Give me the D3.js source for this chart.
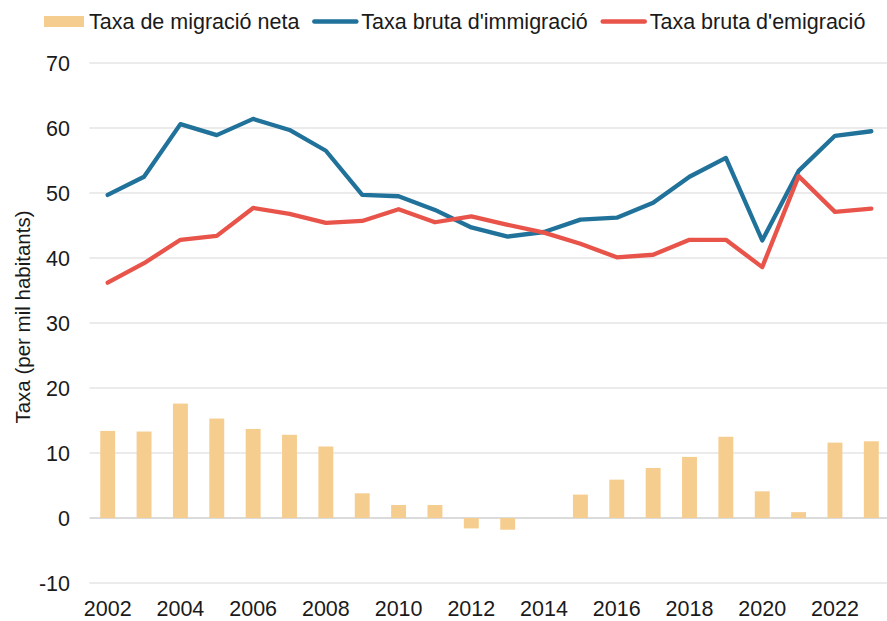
<!DOCTYPE html>
<html><head><meta charset="utf-8">
<script src="https://cdn.jsdelivr.net/npm/d3@7/dist/d3.min.js"></script>
<style>
body{margin:0;background:#fff;}
text{font-family:"Liberation Sans",Arial,sans-serif;fill:#1a1a1a;}
</style></head>
<body><svg id="c" width="887" height="621"></svg>
<script>
const years = [2002,2003,2004,2005,2006,2007,2008,2009,2010,2011,2012,2013,2014,2015,2016,2017,2018,2019,2020,2021,2022,2023];
const netRate = [13.4,13.3,17.6,15.3,13.7,12.8,11.0,3.8,2.0,2.0,-1.6,-1.8,0.0,3.6,5.9,7.7,9.4,12.5,4.1,0.9,11.6,11.8];
const immigRate = [49.7,52.5,60.6,58.9,61.4,59.7,56.5,49.7,49.5,47.4,44.7,43.3,44.0,45.9,46.2,48.5,52.5,55.4,42.7,53.4,58.8,59.5];
const emigRate = [36.2,39.2,42.8,43.4,47.7,46.8,45.4,45.7,47.5,45.5,46.4,45.1,43.9,42.2,40.1,40.5,42.8,42.8,38.6,52.6,47.1,47.6];
const yTicks = [-10,0,10,20,30,40,50,60,70];
const xTickYears = [2002,2004,2006,2008,2010,2012,2014,2016,2018,2020,2022];
const seriesNames = ["Taxa de migració neta","Taxa bruta d'immigració","Taxa bruta d'emigració"];
const colors = ["#f5cd8f","#21729a","#e8534a"];
const yTitle = "Taxa (per mil habitants)";

const svg = d3.select("#c");
const pLeft = 89.5, pRight = 889.5, pTop = 63, pBottom = 583;
const x = d3.scaleBand().domain(years).range([pLeft,pRight]).paddingInner(0.59).paddingOuter(0.295);
const y = d3.scaleLinear().domain([-10,70]).range([pBottom,pTop]);
const cx = d => x(d) + x.bandwidth()/2;

// gridlines
svg.append("g").selectAll("line").data(yTicks).join("line")
  .attr("x1",pLeft).attr("x2",887).attr("y1",d=>y(d)).attr("y2",d=>y(d))
  .attr("stroke",d=>d===0?"#cfcfcf":"#e4e4e4").attr("stroke-width",d=>d===0?1.6:1.3);

// y axis labels
const yAxis = d3.axisLeft(y).tickValues(yTicks).tickSize(0).tickPadding(0).tickFormat(d=>String(d));
const gy = svg.append("g").attr("transform","translate(70,0)").call(yAxis);
gy.select(".domain").remove();
gy.selectAll("text").attr("font-size",21.5).attr("font-family","Liberation Sans, Arial, sans-serif").attr("fill","#1a1a1a").attr("dy","0.36em");

// x axis labels
const xAxis = d3.axisBottom(x).tickValues(xTickYears).tickSize(0).tickPadding(0);
const gx = svg.append("g").attr("transform","translate(0,600)").call(xAxis);
gx.select(".domain").remove();
gx.selectAll("text").attr("font-size",21.5).attr("font-family","Liberation Sans, Arial, sans-serif").attr("fill","#1a1a1a").attr("dy","0.76em");

// bars
svg.append("g").selectAll("rect").data(years.map((yr,i)=>({yr,v:netRate[i]}))).join("rect")
  .attr("x",d=>x(d.yr)).attr("width",x.bandwidth())
  .attr("y",d=>y(Math.max(0,d.v))).attr("height",d=>Math.abs(y(d.v)-y(0)))
  .attr("fill",colors[0]);

// lines
const line = d3.line().x(d=>cx(d.yr)).y(d=>y(d.v));
[immigRate, emigRate].forEach((arr,k)=>{
  svg.append("path").datum(years.map((yr,i)=>({yr,v:arr[i]})))
    .attr("d",line).attr("fill","none").attr("stroke",colors[k+1])
    .attr("stroke-width",4.3).attr("stroke-linejoin","round").attr("stroke-linecap","round");
});

// y title
svg.append("text").attr("transform","translate(30,317) rotate(-90)")
  .attr("text-anchor","middle").attr("font-size",20.5).text(yTitle);

// legend
const lg = svg.append("g");
let lx = 44;
seriesNames.forEach((name,i)=>{
  if(i===0){
    lg.append("rect").attr("x",lx).attr("y",16).attr("width",40).attr("height",11).attr("fill",colors[0]);
    lx += 45;
  } else {
    lg.append("line").attr("x1",lx+2).attr("x2",lx+44).attr("y1",21.5).attr("y2",21.5)
      .attr("stroke",colors[i]).attr("stroke-width",4.5).attr("stroke-linecap","round");
    lx += 49;
  }
  const t = lg.append("text").attr("x",lx).attr("y",29).attr("font-size",21.5).text(name);
  lx += t.node().getComputedTextLength() + 13;
});
</script></body></html>
